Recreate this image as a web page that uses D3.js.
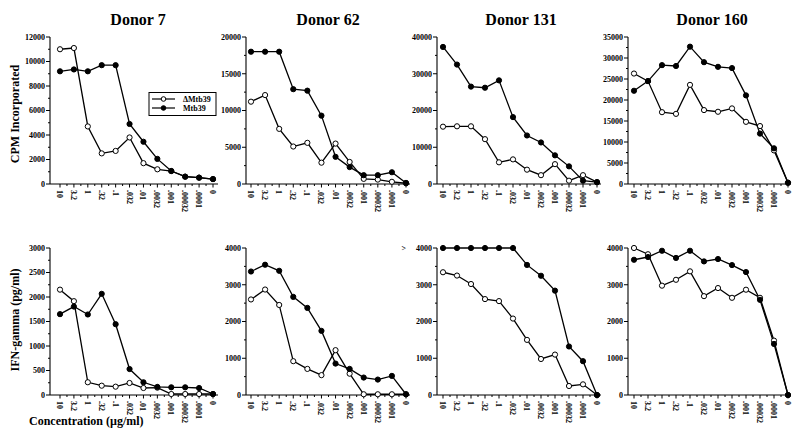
<!DOCTYPE html>
<html><head><meta charset="utf-8">
<script src="https://cdn.jsdelivr.net/npm/d3@7"></script>
<style>body{margin:0;background:#fff}svg{display:block}text{font-family:"Liberation Serif","Times New Roman",serif;font-weight:bold;fill:#000}</style>
</head><body><svg id="c" width="800" height="438"></svg>
<script>
const concentrations = ["10","3.2","1",".32",".1",".032",".01",".0032",".001",".00032",".0001","0"];
const donors = ["Donor 7","Donor 62","Donor 131","Donor 160"];
const seriesNames = ["\u0394Mtb39","Mtb39"];

const cpmDelta7   = [11000,11100,4700,2500,2700,3800,1700,1200,1060,600,520,400];
const cpmMtb7     = [9200,9350,9200,9700,9700,4900,3450,2050,1060,600,520,400];
const cpmDelta62  = [11200,12100,7500,5100,5600,2900,5500,3000,700,600,300,100];
const cpmMtb62    = [18000,18000,18000,12900,12700,9300,3700,2300,1200,1200,1600,150];
const cpmDelta131 = [15600,15700,15700,12200,5900,6700,3900,2400,5400,900,2400,500];
const cpmMtb131   = [37300,32500,26500,26200,28200,18200,13200,11300,7800,4800,900,500];
const cpmDelta160 = [26300,24500,17100,16700,23600,17600,17200,18000,14800,13800,8000,300];
const cpmMtb160   = [22200,24500,28300,28100,32700,29000,27900,27600,21100,12000,8500,300];

const ifnDelta7   = [2150,1915,260,190,170,245,143,150,20,20,20,20];
const ifnMtb7     = [1650,1805,1643,2065,1445,530,260,165,157,157,143,20];
const ifnDelta62  = [2600,2870,2450,920,710,540,1220,580,20,20,20,20];
const ifnMtb62    = [3360,3545,3380,2670,2370,1745,855,710,475,420,520,20];
const ifnDelta131 = [3340,3250,3020,2610,2555,2080,1500,980,1100,245,290,0];
const ifnMtb131   = [4000,4000,4000,4000,4000,4000,3540,3245,2840,1320,920,0];
const ifnDelta160 = [4000,3830,2975,3135,3365,2690,2910,2645,2865,2645,1480,0];
const ifnMtb160   = [3680,3755,3925,3730,3925,3635,3700,3535,3345,2590,1390,0];

const cpmMax   = [12000,20000,40000,35000];
const cpmStep  = [2000,5000,10000,5000];
const ifnMax   = [3000,4000,4000,4000];
const ifnStep  = [500,1000,1000,1000];

const cpmData = [[cpmDelta7,cpmMtb7],[cpmDelta62,cpmMtb62],[cpmDelta131,cpmMtb131],[cpmDelta160,cpmMtb160]];
const ifnData = [[ifnDelta7,ifnMtb7],[ifnDelta62,ifnMtb62],[ifnDelta131,ifnMtb131],[ifnDelta160,ifnMtb160]];

// layout
const cols = [
  {axisX:50, x0:60, x1:213, xEnd:218, cx:138},
  {axisX:246, x0:251, x1:406, xEnd:410, cx:328},
  {axisX:437, x0:443, x1:597, xEnd:601, cx:521},
  {axisX:628, x0:634, x1:788, xEnd:791, cx:712}
];
const rows = [{y0:184, y1:37}, {y0:395, y1:248}];

const svg = d3.select("#c");

function panel(ci, ri, data, maxV, step, topPrefix){
  const c = cols[ci], r = rows[ri];
  const g = svg.append("g");
  const x = d3.scalePoint().domain(concentrations).range([c.x0, c.x1]);
  const y = d3.scaleLinear().domain([0, maxV]).range([r.y0, r.y1]);
  // y axis
  g.append("line").attr("x1",c.axisX).attr("x2",c.axisX).attr("y1",r.y0).attr("y2",r.y1).attr("stroke","#000").attr("stroke-width",1.1);
  const majors = d3.range(0, maxV + 1, step);
  const minors = d3.range(step/2, maxV, step);
  g.selectAll(".mj").data(majors).join("line").attr("x1",c.axisX-4).attr("x2",c.axisX).attr("y1",d=>y(d)).attr("y2",d=>y(d)).attr("stroke","#000");
  g.selectAll(".mn").data(minors).join("line").attr("x1",c.axisX-2).attr("x2",c.axisX).attr("y1",d=>y(d)).attr("y2",d=>y(d)).attr("stroke","#000");
  g.selectAll(".yl").data(majors).join("text").attr("x",c.axisX-5).attr("y",d=>y(d)+2.8)
    .attr("text-anchor","end").attr("font-size",8).text(d => d);
  if (topPrefix) {
    g.append("text").attr("x",c.axisX-31).attr("y",y(maxV)+2.8).attr("text-anchor","end").attr("font-size",8).text(topPrefix);
  }
  // x axis
  g.append("line").attr("x1",c.axisX).attr("x2",c.xEnd).attr("y1",r.y0).attr("y2",r.y0).attr("stroke","#000").attr("stroke-width",1.1);
  const bw = x.step();
  g.selectAll(".xt").data(concentrations).join("line").attr("x1",d=>x(d)).attr("x2",d=>x(d)).attr("y1",r.y0).attr("y2",r.y0+3.5).attr("stroke","#000");
  g.selectAll(".xm").data(concentrations.slice(1)).join("line").attr("x1",d=>x(d)-bw/2).attr("x2",d=>x(d)-bw/2).attr("y1",r.y0).attr("y2",r.y0+2).attr("stroke","#000");
  g.selectAll(".xl").data(concentrations).join("text")
    .attr("transform",d=>`translate(${x(d)-3},${r.y0+6}) rotate(90)`)
    .attr("font-size",8).attr("text-anchor","start").text(d=>d);
  // lines
  const line = d3.line().x((d,i)=>x(concentrations[i])).y(d=>y(d));
  data.forEach((s) => {
    g.append("path").datum(s).attr("d", line).attr("fill","none").attr("stroke","#000").attr("stroke-width",1.3);
  });
  data.forEach((s, si) => {
    g.selectAll(null).data(s).join("circle").attr("cx",(d,i)=>x(concentrations[i])).attr("cy",d=>y(d)).attr("r",2.6)
      .attr("fill", si===0 ? "#fff" : "#000").attr("stroke","#000").attr("stroke-width",1);
  });
}

for (let i=0;i<4;i++){
  panel(i,0,cpmData[i],cpmMax[i],cpmStep[i], null);
  panel(i,1,ifnData[i],ifnMax[i],ifnStep[i], i===2 ? ">" : null);
  svg.append("text").attr("x",cols[i].cx).attr("y",25).attr("text-anchor","middle").attr("font-size",16).text(donors[i]);
}

// axis titles
svg.append("text").attr("transform","translate(19,114) rotate(-90)").attr("text-anchor","middle").attr("font-size",12).text("CPM Incorporated");
svg.append("text").attr("transform","translate(19,320) rotate(-90)").attr("text-anchor","middle").attr("font-size",12).text("IFN-gamma (pg/ml)");
svg.append("text").attr("x",29).attr("y",425).attr("font-size",12).text("Concentration (\u00b5g/ml)");

// legend
const lg = svg.append("g");
lg.append("rect").attr("x",149).attr("y",92.5).attr("width",67).attr("height",23).attr("fill","#fff").attr("stroke","#000").attr("stroke-width",1);
seriesNames.forEach((n,i)=>{
  const yy = 99 + i*9;
  lg.append("line").attr("x1",152).attr("x2",175).attr("y1",yy).attr("y2",yy).attr("stroke","#000").attr("stroke-width",1.2);
  lg.append("circle").attr("cx",163.5).attr("cy",yy).attr("r",2.3).attr("fill",i===0?"#fff":"#000").attr("stroke","#000");
  lg.append("text").attr("x",183).attr("y",yy+2.8).attr("font-size",8).text(n);
});
</script></body></html>
